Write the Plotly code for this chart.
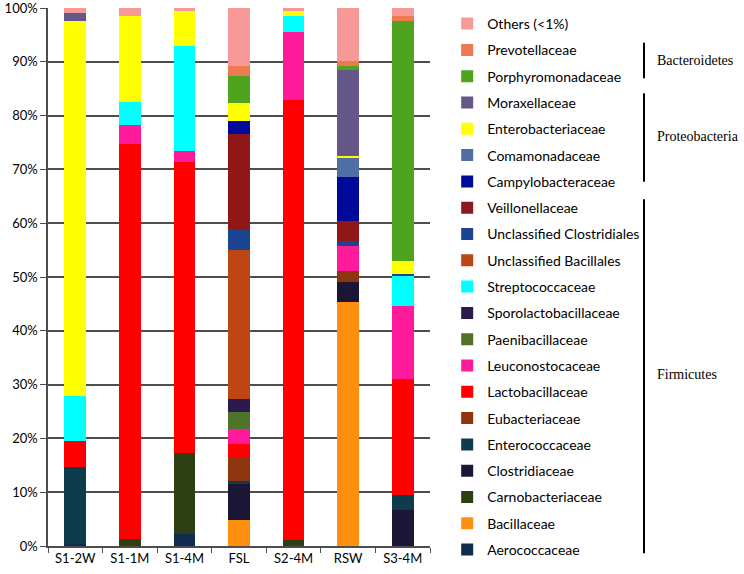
import plotly.graph_objects as go

samples = ["S1-2W", "S1-1M", "S1-4M", "FSL", "S2-4M", "RSW", "S3-4M"]

# stacked from bottom to top
Aerococcaceae = [0.3, 0, 2.2, 0, 0, 0, 0]
Bacillaceae = [0, 0, 0, 4.8, 0, 45.4, 0]
Carnobacteriaceae = [0, 1.3, 15.0, 0, 1.1, 0, 0]
Clostridiaceae = [0, 0, 0, 6.9, 0, 3.7, 6.6]
Enterococcaceae = [14.3, 0, 0, 0.3, 0, 0, 2.9]
Eubacteriaceae = [0, 0, 0, 4.3, 0, 2.0, 0]
Lactobacillaceae = [4.9, 73.5, 54.2, 2.7, 81.8, 0, 21.5]
Leuconostocaceae = [0, 3.5, 2.0, 2.7, 12.6, 4.7, 13.6]
Paenibacillaceae = [0, 0, 0, 3.3, 0, 0, 0]
Sporolactobacillaceae = [0, 0, 0, 2.4, 0, 0, 0]
Streptococcaceae = [8.4, 4.3, 19.5, 0, 3.1, 0, 5.6]
Unclassified_Bacillales = [0, 0, 0, 27.6, 0, 0, 0]
Unclassified_Clostridiales = [0, 0, 0, 3.7, 0, 0.8, 0.3]
Veillonellaceae = [0, 0, 0, 17.8, 0, 3.9, 0]
Campylobacteraceae = [0, 0, 0, 2.5, 0, 8.1, 0]
Comamonadaceae = [0, 0, 0, 0, 0, 3.6, 0]
Enterobacteriaceae = [69.6, 16.0, 6.5, 3.4, 0.8, 0.3, 2.5]
Moraxellaceae = [1.6, 0, 0, 0, 0, 16.0, 0]
Porphyromonadaceae = [0, 0, 0, 5.0, 0, 0.8, 44.6]
Prevotellaceae = [0, 0, 0, 1.8, 0, 0.9, 0.9]
Others = [0.9, 1.4, 0.6, 10.8, 0.6, 9.8, 1.5]

series = [
    ("Aerococcaceae", Aerococcaceae, "#102A50"),
    ("Bacillaceae", Bacillaceae, "#FF8F0F"),
    ("Carnobacteriaceae", Carnobacteriaceae, "#2D4014"),
    ("Clostridiaceae", Clostridiaceae, "#1C1636"),
    ("Enterococcaceae", Enterococcaceae, "#0E3C4C"),
    ("Eubacteriaceae", Eubacteriaceae, "#8E3510"),
    ("Lactobacillaceae", Lactobacillaceae, "#FF0000"),
    ("Leuconostocaceae", Leuconostocaceae, "#FF1A9C"),
    ("Paenibacillaceae", Paenibacillaceae, "#4F7328"),
    ("Sporolactobacillaceae", Sporolactobacillaceae, "#2B1A4E"),
    ("Streptococcaceae", Streptococcaceae, "#00FFFF"),
    ("Unclassified Bacillales", Unclassified_Bacillales, "#BD4614"),
    ("Unclassified Clostridiales", Unclassified_Clostridiales, "#1C4591"),
    ("Veillonellaceae", Veillonellaceae, "#8F1717"),
    ("Campylobacteraceae", Campylobacteraceae, "#000A9A"),
    ("Comamonadaceae", Comamonadaceae, "#4F6EA6"),
    ("Enterobacteriaceae", Enterobacteriaceae, "#FFFF00"),
    ("Moraxellaceae", Moraxellaceae, "#65578A"),
    ("Porphyromonadaceae", Porphyromonadaceae, "#4FA31F"),
    ("Prevotellaceae", Prevotellaceae, "#EE7B4F"),
    ("Others (<1%)", Others, "#F79A97"),
]

y_ticks = [0, 10, 20, 30, 40, 50, 60, 70, 80, 90, 100]
y_tick_text = [f"{v}%" for v in y_ticks]

phyla = [
    ("Bacteroidetes", 0.9355, 0.8693, 0.9033),
    ("Proteobacteria", 0.8414, 0.6771, 0.762),
    ("Firmicutes", 0.6444, -0.0136, 0.3197),
]

fig = go.Figure()
n = len(series)
for i, (name, vals, color) in enumerate(series):
    fig.add_trace(go.Bar(
        x=samples, y=vals, name=name, legendgroup=name,
        legendrank=100 + (n - i),
        marker=dict(color=color, line=dict(width=0)),
    ))

grid_color = "#4d4d4d"
fig.update_layout(
    barmode="stack",
    bargap=0.6,
    width=744, height=574,
    margin=dict(l=48, r=314, t=8, b=28),
    paper_bgcolor="white", plot_bgcolor="white",
    font=dict(family="Lato, Open Sans, sans-serif", size=13, color="black"),
    showlegend=True,
    legend=dict(
        traceorder="grouped",
        tracegroupgap=5.1,
        maxheight=574,
        x=1.045, xanchor="left", y=1.0, yanchor="top",
        font=dict(size=14, color="black"),
        bgcolor="rgba(0,0,0,0)",
    ),
    xaxis=dict(
        type="category",
        showline=True, linecolor=grid_color, linewidth=1.5,
        ticks="outside", tickson="boundaries", ticklen=5, tickcolor=grid_color,
        tickfont=dict(size=13, color="black"),
    ),
    yaxis=dict(
        range=[0, 100],
        tickvals=y_ticks, ticktext=y_tick_text,
        showgrid=True, gridcolor=grid_color, gridwidth=1.5,
        showline=True, linecolor=grid_color, linewidth=1.5,
        ticks="outside", ticklen=6, tickcolor=grid_color,
        tickfont=dict(size=13, color="black"),
        ticklabeloverflow="allow",
        zeroline=False, automargin=False,
    ),
)

for label, y0, y1, ym in phyla:
    fig.add_shape(type="line", xref="paper", yref="paper",
                  x0=1.5602, x1=1.5602, y0=y0, y1=y1,
                  line=dict(color="black", width=2))
    fig.add_annotation(text=label, xref="paper", yref="paper",
                       x=1.589, y=ym, xanchor="left", yanchor="middle",
                       showarrow=False,
                       font=dict(family="Liberation Serif, serif", size=14, color="black"))

fig.write_html("out.html", config={"displayModeBar": False},
               post_script="document.body.style.margin='0';")
